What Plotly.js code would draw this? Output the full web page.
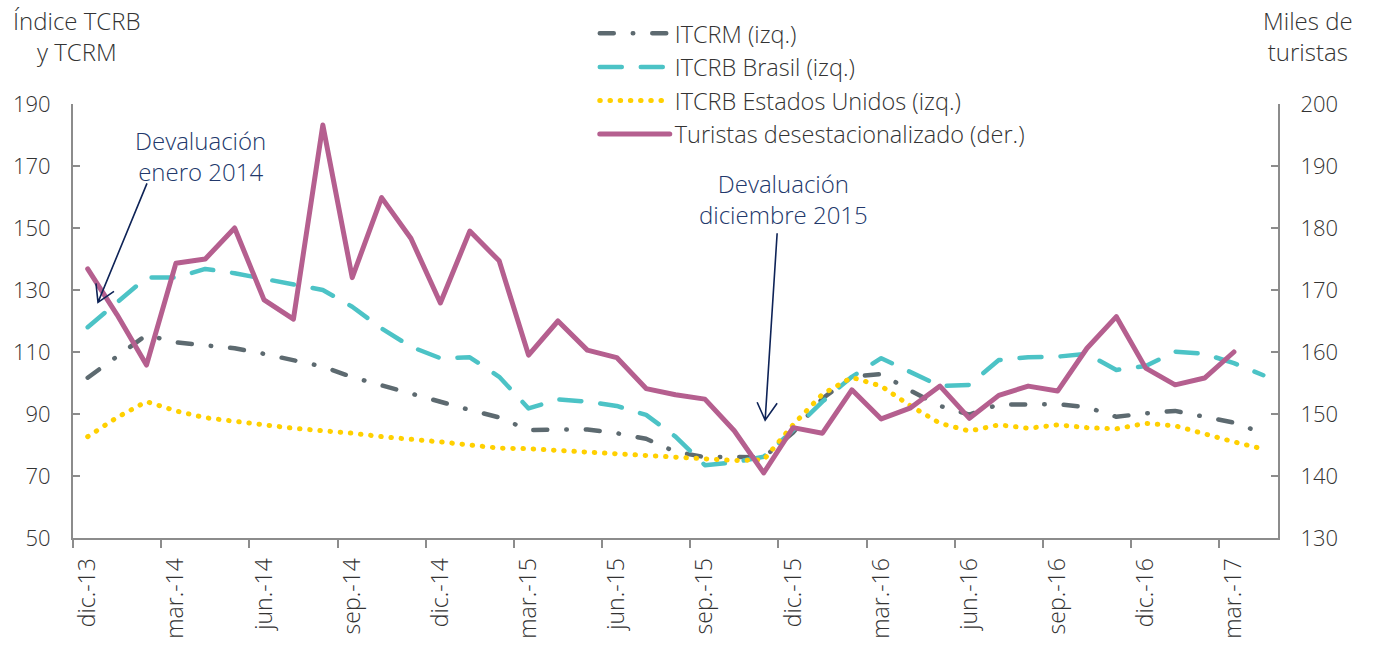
<!DOCTYPE html>
<html>
<head>
<meta charset="utf-8">
<script src="https://cdn.plot.ly/plotly-3.0.1.min.js"></script>
<style>
  html, body { margin: 0; padding: 0; background: #fff; }
  #chart { width: 1375px; height: 646px; }
  .js-line { stroke-linecap: round !important; stroke-linejoin: round !important; }
</style>
</head>
<body>
<div id="chart"></div>
<script>
// Monthly categories, dic.-13 .. abr.-17
const months = [
  "dic.-13",
  "ene.-14","feb.-14","mar.-14","abr.-14","may.-14","jun.-14","jul.-14","ago.-14","sep.-14","oct.-14","nov.-14","dic.-14",
  "ene.-15","feb.-15","mar.-15","abr.-15","may.-15","jun.-15","jul.-15","ago.-15","sep.-15","oct.-15","nov.-15","dic.-15",
  "ene.-16","feb.-16","mar.-16","abr.-16","may.-16","jun.-16","jul.-16","ago.-16","sep.-16","oct.-16","nov.-16","dic.-16",
  "ene.-17","feb.-17","mar.-17","abr.-17"
];

// ITCRM (left axis)
const itcrm = [
  101.7, 108.7, 115.5, 113.1, 112.3, 111.2, 109.4, 107.4, 105.3, 101.9, 99.2,
  96.4, 93.7, 91.3, 88.9, 84.8, 85.0, 85.0, 83.8, 82.0, 77.8, 76.1, 76.2, 76.0,
  84.0, 95.0, 102.0, 102.9, 97.5, 92.6, 89.8, 93.1, 93.1, 93.2, 92.2, 89.1,
  90.2, 91.0, 89.1, 87.2, 83.8
];

// ITCRB Brasil (left axis)
const itcrbBrasil = [
  118.0, 126.0, 134.0, 134.0, 136.8, 135.4, 133.5, 131.8, 130.0, 124.6, 117.6,
  111.7, 108.0, 108.3, 102.0, 91.8, 94.7, 94.0, 92.6, 89.7, 82.7, 73.5, 74.4, 76.2,
  84.8, 94.0, 102.0, 108.0, 103.6, 99.0, 99.4, 107.4, 108.3, 108.5, 109.4, 104.2,
  105.5, 110.1, 109.4, 106.4, 102.5
];

// ITCRB Estados Unidos (left axis)
const itcrbEEUU = [
  82.7, 88.9, 94.0, 91.0, 88.8, 87.5, 86.5, 85.4, 84.8, 83.8, 82.7,
  82.0, 81.0, 80.0, 79.0, 78.8, 78.3, 77.4, 77.0, 76.6, 76.1, 75.4, 75.0, 75.2,
  86.5, 96.4, 101.8, 99.0, 92.6, 87.0, 84.5, 86.5, 85.4, 86.5, 85.6, 85.2,
  87.0, 86.2, 83.4, 81.0, 78.7
];

// Turistas desestacionalizado, miles (right axis), dic.-13 .. mar.-17
const turistas = [
  173.4, 166.0, 157.9, 174.3, 175.0, 180.0, 168.4, 165.3, 196.6, 172.0, 184.9,
  178.3, 167.9, 179.5, 174.7, 159.5, 165.0, 160.3, 159.1, 154.1, 153.1, 152.4, 147.3, 140.5,
  147.8, 146.9, 153.9, 149.2, 151.0, 154.5, 149.3, 153.0, 154.5, 153.7, 160.6, 165.7,
  157.4, 154.7, 155.8, 160.0
];

const seriesNames = [
  "ITCRM (izq.)",
  "ITCRB Brasil (izq.)",
  "ITCRB Estados Unidos (izq.)",
  "Turistas desestacionalizado (der.)"
];

const FONT = "'Open Sans', 'DejaVu Sans', sans-serif";
const TXT = "#333333";
const AX = "#8c8c8c";
const NAVY = "#0e2357";

function f(size, color) { return { family: FONT, size: size, color: color || TXT, weight: 300 }; }

const traces = [
  { x: months, y: itcrm, name: seriesNames[0], type: "scatter", mode: "lines",
    line: { color: "#5d6a70", width: 4.5, dash: "14px,19px,0.5px,19px" } },
  { x: months, y: itcrbBrasil, name: seriesNames[1], type: "scatter", mode: "lines",
    line: { color: "#4cc3c6", width: 4.5, dash: "22px,19px" } },
  { x: months, y: itcrbEEUU, name: seriesNames[2], type: "scatter", mode: "lines",
    line: { color: "#ffd000", width: 5, dash: "0.5px,9.7px" } },
  { x: months.slice(0, turistas.length), y: turistas, name: seriesNames[3], type: "scatter", mode: "lines",
    yaxis: "y2", line: { color: "#b55f8f", width: 5 } }
];

const layout = {
  width: 1375, height: 646,
  margin: { l: 73, r: 97, t: 104, b: 108, pad: 0 },
  paper_bgcolor: "#ffffff", plot_bgcolor: "#ffffff",
  font: f(22),
  showlegend: true,
  legend: {
    x: 0.433, y: 1.213, xanchor: "left", yanchor: "top",
    bgcolor: "rgba(0,0,0,0)", itemwidth: 70, tracegroupgap: 0,
    font: f(23.5)
  },
  xaxis: {
    type: "category", range: [-0.5, 40.5],
    tickmode: "linear", tick0: 0, dtick: 3,
    tickson: "boundaries",
    ticks: "outside", ticklen: 8, tickwidth: 2, tickcolor: AX,
    tickangle: -90,
    showline: true, linecolor: AX, linewidth: 2,
    showgrid: false, zeroline: false,
    ticklabelstandoff: 9,
    tickfont: f(23)
  },
  yaxis: {
    range: [50, 190], tickmode: "linear", tick0: 50, dtick: 20,
    ticks: "inside", ticklen: 7, tickwidth: 2, tickcolor: AX,
    showline: true, linecolor: AX, linewidth: 2,
    showgrid: false, zeroline: false,
    ticklabelstandoff: 16,
    tickfont: f(22)
  },
  yaxis2: {
    overlaying: "y", side: "right",
    range: [130, 200], tickmode: "linear", tick0: 130, dtick: 10,
    ticks: "inside", ticklen: 7, tickwidth: 2, tickcolor: AX,
    showline: true, linecolor: AX, linewidth: 2,
    showgrid: false, zeroline: false,
    ticklabelstandoff: 16,
    tickfont: f(22)
  },
  annotations: [
    { xref: "paper", yref: "paper", x: 0.003, y: 1.157, xanchor: "center", yanchor: "middle",
      text: "Índice TCRB<br>y TCRM", showarrow: false, font: f(24) },
    { xref: "paper", yref: "paper", x: 1.025, y: 1.157, xanchor: "center", yanchor: "middle",
      text: "Miles de<br>turistas", showarrow: false, font: f(24) },
    { xref: "x", yref: "y", x: 3.83, y: 173.3, xanchor: "center", yanchor: "middle",
      text: "Devaluación<br>enero 2014", showarrow: false, font: f(24, "#22386b") },
    { xref: "x", yref: "y", x: 23.66, y: 159.4, xanchor: "center", yanchor: "middle",
      text: "Devaluación<br>diciembre 2015", showarrow: false, font: f(24, "#22386b") }
  ],
  shapes: [
    { type: "path", xref: "x", yref: "y", xsizemode: "pixel", ysizemode: "pixel",
      xanchor: 0.35, yanchor: 126,
      path: "M49,119 L0,0 M-2,19 L0,0 L16,11",
      line: { color: NAVY, width: 1.6 } },
    { type: "path", xref: "x", yref: "y", xsizemode: "pixel", ysizemode: "pixel",
      xanchor: 23.05, yanchor: 88,
      path: "M12,187 L0,0 M-8,18 L0,0 L12,17",
      line: { color: NAVY, width: 1.6 } }
  ]
};

Plotly.newPlot("chart", traces, layout, { displayModeBar: false, staticPlot: true });
</script>
</body>
</html>
